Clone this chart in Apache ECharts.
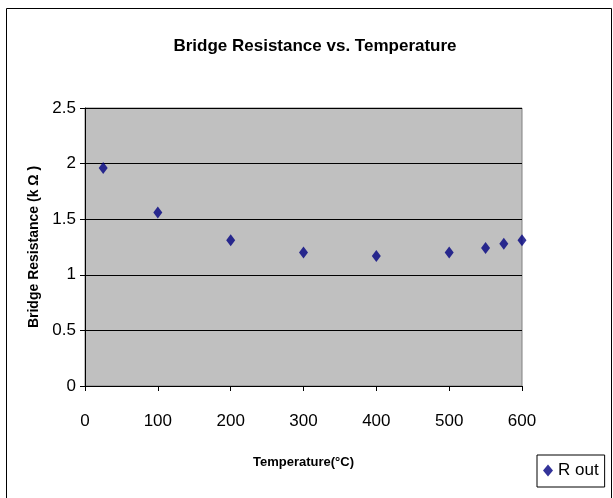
<!DOCTYPE html>
<html>
<head>
    <meta charset="UTF-8"/>
    <title>Bridge Resistance vs. Temperature</title>
    <script src="https://cdn.jsdelivr.net/npm/echarts@6/dist/echarts.min.js"></script>
    <style>
        html, body { margin: 0; padding: 0; background: #fff; }
    </style>
</head>
<body>
<div id="main" style="width: 613px;height:498px;"></div>
<script>
    // temperature (°C) and bridge resistance (kΩ)
    var temperature = [25, 100, 200, 300, 400, 500, 550, 575, 600];
    var resistance = [1.96, 1.56, 1.31, 1.20, 1.17, 1.20, 1.24, 1.28, 1.31];

    var font = "'Liberation Sans Narrow', 'Liberation Sans', Arial, sans-serif";

    var points = [];
    for (var i = 0; i < temperature.length; i++) {
        points.push([temperature[i], resistance[i]]);
    }

    var myChart = echarts.init(document.getElementById('main'));

    var option = {
        backgroundColor: '#fff',
        animation: false,
        title: {
            text: 'Bridge Resistance vs. Temperature',
            left: 310,
            top: 33,
            textAlign: 'center',
            textStyle: { fontFamily: font, fontSize: 17, fontWeight: 'bold', color: '#000' }
        },
        graphic: [{
            type: 'rect',
            shape: { x: 6.5, y: 8.5, width: 605, height: 500 },
            style: { fill: 'none', stroke: '#000', lineWidth: 1 },
            z: -1
        }],
        legend: {
            left: 537,
            top: 455,
            padding: [7, 6, 8, 6],
            borderColor: '#000',
            borderWidth: 1,
            itemWidth: 10,
            itemHeight: 12,
            itemGap: 4,
            textStyle: { fontFamily: font, fontSize: 17, color: '#000' },
            data: ['R out']
        },
        grid: {
            left: 85,
            right: 91,
            top: 108,
            bottom: 112,
            show: true,
            backgroundColor: '#c0c0c0',
            borderColor: '#808080',
            borderWidth: 1
        },
        xAxis: {
            type: 'value',
            min: 0,
            max: 600,
            interval: 100,
            name: 'Temperature(°C)',
            nameLocation: 'middle',
            nameGap: 70,
            nameTextStyle: { fontFamily: font, fontSize: 13, fontWeight: 'bold', color: '#000' },
            axisLine: { onZero: false, lineStyle: { color: '#000' } },
            axisTick: { show: true, length: 5, lineStyle: { color: '#000' } },
            axisLabel: { fontFamily: font, fontSize: 17, color: '#000', margin: 27 },
            splitLine: { show: false }
        },
        yAxis: {
            type: 'value',
            min: 0,
            max: 2.5,
            interval: 0.5,
            name: 'Bridge Resistance (k Ω )',
            nameLocation: 'middle',
            nameGap: 35,
            nameTextStyle: { fontFamily: font, fontSize: 14, fontWeight: 'bold', color: '#000' },
            axisLine: { show: true, lineStyle: { color: '#000' } },
            axisTick: { show: true, length: 5, lineStyle: { color: '#000' } },
            axisLabel: { fontFamily: font, fontSize: 17, color: '#000', margin: 9 },
            splitLine: { show: true, lineStyle: { color: '#000', width: 1 } }
        },
        series: [{
            name: 'R out',
            type: 'scatter',
            symbol: 'diamond',
            symbolSize: [9, 12],
            itemStyle: { color: '#000080' },
            data: points
        }]
    };

    myChart.setOption(option);
</script>
</body>
</html>
